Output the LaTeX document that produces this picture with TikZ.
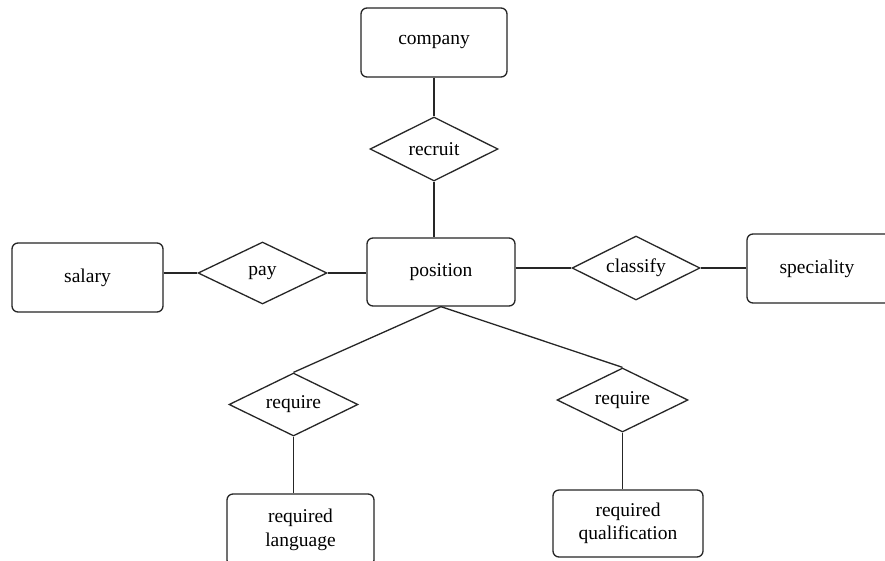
\documentclass[tikz,border=0pt]{standalone}
\usepackage{fontspec}
\setmainfont{Liberation Serif}
\usetikzlibrary{shapes.geometric}
\begin{document}
\begin{tikzpicture}[x=1pt,y=-1pt,
  every node/.style={font=\fontsize{19.5}{23.5}\selectfont, text=black},
  entity/.style={draw=black!85, line width=1.3pt, rounded corners=6pt, inner sep=0pt,
    align=center},
  relation/.style={draw=black!85, line width=1.3pt, diamond, aspect=2, inner sep=0pt},
  link/.style={draw=black!85, line width=1.3pt}]
\useasboundingbox (0,0) rectangle (885,560);
\clip (0,0) rectangle (885,560);
\fill[white] (0,0) rectangle (885,560);

% entities
\node[entity, minimum width=146pt, minimum height=69pt] (company) at (434,42.5) {company};
\node[entity, minimum width=148pt, minimum height=68pt] (position) at (441,272) {position};
\node[entity, minimum width=151pt, minimum height=69pt] (salary) at (87.5,277.5) {salary};
\node[entity, minimum width=150pt, minimum height=69pt] (speciality) at (822,268.5) {\hspace*{-10pt}speciality};
\node[entity, minimum width=147pt, minimum height=72pt] (language) at (300.5,530) {required\\language};
\node[entity, minimum width=150pt, minimum height=67pt] (qualification) at (628,523.5) {required\\qualification};

% relationships
\node[relation, minimum width=128pt, minimum height=64pt] (recruit) at (434,149) {recruit};
\node[relation, minimum width=129pt, minimum height=62pt] (pay) at (262.5,273) {pay};
\node[relation, minimum width=128pt, minimum height=64pt] (classify) at (636,268) {classify};
\node[relation, minimum width=129pt, minimum height=63pt] (reqlang) at (293.5,404.5) {require};
\node[relation, minimum width=131pt, minimum height=64pt] (reqqual) at (622.5,400) {require};

% connectors
\draw[link] (company.south) -- (recruit.north);
\draw[link] (recruit.south) -- (recruit.south |- position.north);
\draw[link] (salary.east |- pay.west) -- (pay.west);
\draw[link] (pay.east) -- (pay.east -| position.west);
\draw[link] (position.east |- classify.west) -- (classify.west);
\draw[link] (classify.east) -- (classify.east -| speciality.west);
\draw[link] (position.south) -- (reqlang.north);
\draw[link] (position.south) -- (reqqual.north);
\draw[link] (reqlang.south) -- (reqlang.south |- language.north);
\draw[link] (reqqual.south) -- (reqqual.south |- qualification.north);
\end{tikzpicture}
\end{document}
